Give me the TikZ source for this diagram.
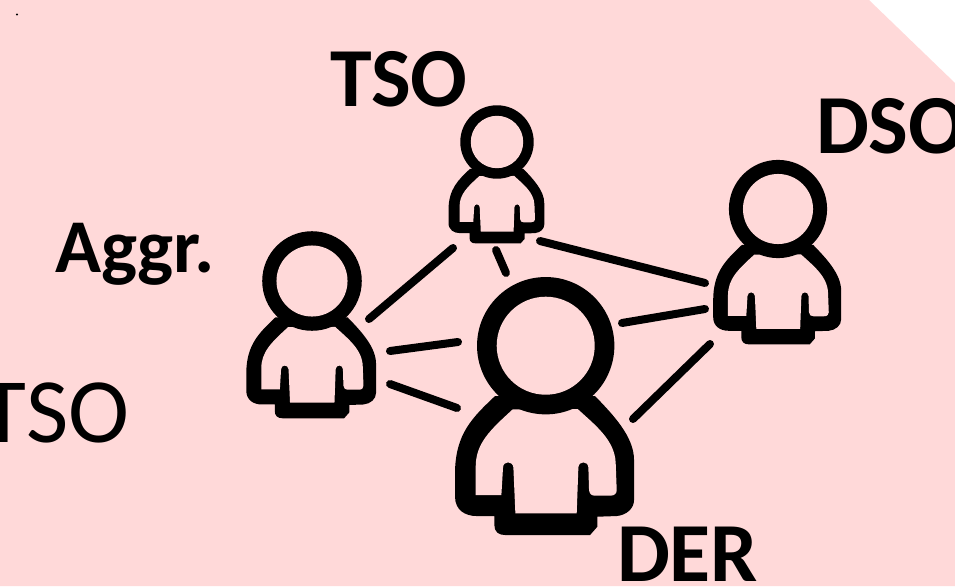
\documentclass[tikz,border=0pt]{standalone}
\usepackage{fontspec}
\setmainfont{Carlito}
\definecolor{bgpink}{HTML}{FFD9D9}
\tikzset{
  personicon/.pic={
    \begin{scope}[scale=1/3,shift={(-317,-257)}]
      \fill[black] (165,408) .. controls (100,470) and (45,520) .. (45,640) -- (45,710)
        .. controls (45,750) and (75,768) .. (110,768) -- (163,768) -- (163,795)
        .. controls (163,815) and (175,825) .. (195,825) -- (450,825) -- (472,800) -- (472,770) -- (530,768)
        .. controls (560,765) and (582,745) .. (582,720) -- (582,600)
        .. controls (582,530) and (520,465) .. (465,408) -- cycle;
      \fill[bgpink] (218,448) .. controls (150,510) and (107,550) .. (107,620) -- (107,705) -- (184,705)
        -- (189,622) .. controls (190,602) and (218,602) .. (220,622) -- (226,760) -- (410,760) -- (415,622)
        .. controls (416,602) and (444,602) .. (445,622) -- (447,690)
        .. controls (448,702) and (455,707) .. (465,707) -- (510,707)
        .. controls (524,707) and (530,700) .. (530,690) -- (527,610)
        .. controls (525,540) and (465,495) .. (413,447) -- cycle;
      \fill[black] (317,257) circle[radius=206];
      \fill[bgpink] (317,257) circle[radius=147];
    \end{scope}
  },
  link/.style={line width=8pt,line cap=round,black},
  lab/.style={anchor=base west,inner sep=0pt,outer sep=0pt,text=black},
}
\begin{document}
\begin{tikzpicture}[x=1pt,y=-1pt]
\useasboundingbox (0,0) rectangle (955,586);
\clip (0,0) rectangle (955,586);
\fill[bgpink] (0,0) -- (869,0) -- (955,83) -- (955,586) -- (0,586) -- cycle;
\fill[black] (17,14.5) circle[radius=1.2];
% connector ends
\coordinate (tsoA) at (453,248); \coordinate (aggT) at (369,319);
\coordinate (tsoD) at (496,250); \coordinate (derT) at (506,273);
\coordinate (tsoS) at (540,241); \coordinate (dsoT) at (705,283);
\coordinate (aggU) at (390,351); \coordinate (derU) at (458,342);
\coordinate (aggL) at (390,384); \coordinate (derL) at (457,408);
\coordinate (derR) at (622,323); \coordinate (dsoU) at (705,309);
\coordinate (derB) at (633,419); \coordinate (dsoL) at (710,344);
\draw[link] (tsoA) -- (aggT);
\draw[link] (tsoD) -- (derT);
\draw[link] (tsoS) -- (dsoT);
\draw[link] (aggU) -- (derU);
\draw[link] (aggL) -- (derL);
\draw[link] (derR) -- (dsoU);
\draw[link] (derB) -- (dsoL);
% people
\pic (pder) at (545.7,345.7) {personicon};
\pic[scale=0.715] (pdso) at (778,209) {personicon};
\pic[scale=0.725] (pagg) at (312,281) {personicon};
\pic[scale=0.535] (ptso) at (497,142) {personicon};
% labels
\node[lab] (ltso) at (330,106) {\fontsize{84}{84}\selectfont\bfseries TSO};
\node[lab] (ldso) at (816,153) {\fontsize{84}{84}\selectfont\bfseries DSO};
\node[lab] (lagg) at (55,272) {\fontsize{76}{76}\selectfont\bfseries Aggr.};
\node[lab] (lder) at (617,581) {\fontsize{84}{84}\selectfont\bfseries DER};
\node[lab] (lts2) at (-18,442) {\fontsize{92}{92}\selectfont TSO};
\end{tikzpicture}
\end{document}
